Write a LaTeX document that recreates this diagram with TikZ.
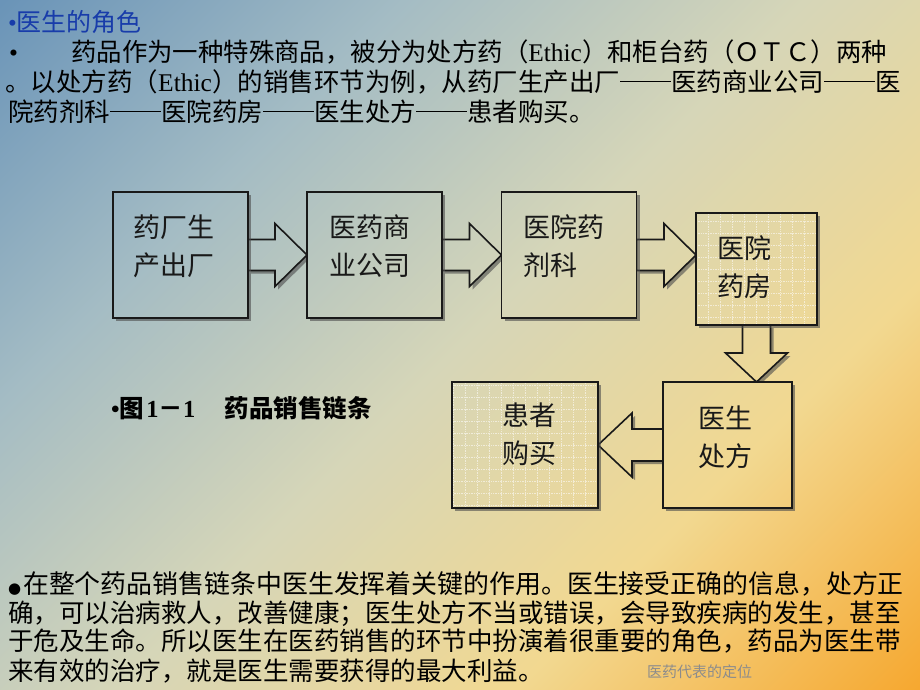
\documentclass[tikz,border=0pt]{standalone}
\usepackage{fontspec}
\setmainfont{Liberation Serif}
\newfontfamily\cjk{Noto Sans CJK SC}
\newfontfamily\lser{Liberation Serif}
\newfontfamily\dejavu{DejaVu Sans}
\usetikzlibrary{calc,shadows}
\definecolor{bgA}{RGB}{106,148,184}
\definecolor{bgB}{RGB}{164,188,196}
\definecolor{bgC}{RGB}{214,214,184}
\definecolor{bgD}{RGB}{242,216,144}
\definecolor{bgE}{RGB}{246,168,48}
\definecolor{titleblue}{RGB}{24,60,170}
\definecolor{inkc}{RGB}{25,25,25}
\pgfdeclarehorizontalshading{bgsh}{100bp}{color(0bp)=(bgA); color(14.6bp)=(bgA); color(32.3bp)=(bgB); color(50bp)=(bgC); color(67.7bp)=(bgD); color(85.4bp)=(bgE); color(100bp)=(bgE)}
\pgfdeclarelayer{back}
\pgfdeclarelayer{arr}
\pgfsetlayers{back,arr,main}
\newcommand\bgfill{\shade[shading=bgsh,shading angle=-45] (O) rectangle (P);}
\newcommand\ddash{\rule[0.36em]{1.98em}{0.06em}\hspace{0.02em}}
\begin{document}
\begin{tikzpicture}[x=1pt,y=-1pt,
  shad/.style={drop shadow={shadow xshift=3pt, shadow yshift=-3pt, opacity=0.6, fill=black!70}},
  box/.style={draw=inkc, line width=1.6pt, inner sep=0pt, outer sep=0pt, shad, path picture={\bgfill}},
  gridbox/.style={box, path picture={\bgfill
     \draw[white, opacity=0.55, densely dotted, line width=0.7pt, step=12pt]
       (path picture bounding box.south west) grid (path picture bounding box.north east);}},
  blockarr/.style={draw=inkc, line width=1.6pt, line join=miter, shad, path picture={\bgfill}},
  boxtxt/.style={font=\fontsize{27}{38}\selectfont\cjk, align=left, inner sep=0pt, text=inkc},
  para/.style={anchor=base west, inner sep=0pt, font=\fontsize{25.5}{30}\selectfont\cjk, text=black},
]
\coordinate (O) at (0,0);
\coordinate (P) at (920,690);
\useasboundingbox (O) rectangle (P);
\begin{pgfonlayer}{back}
\bgfill
\end{pgfonlayer}

% header text
\node[para, text=titleblue, font=\fontsize{25}{30}\selectfont\cjk] (title) at (8,31.5) {{\lser •}医生的角色};
\node[para] (l2) at (9,61.5) {\makebox[62pt][l]{\lser •}{\fontsize{25.4}{30}\selectfont 药品作为一种特殊商品，被分为处方药（{\lser Ethic}）和柜台药（ＯＴＣ）两种}};
\node[para] (l3) at (5,91.5) {。以处方药（{\lser Ethic}）的销售环节为例，从药厂生产出厂\ddash 医药商业公司\ddash 医};
\node[para] (l4) at (8,121.5) {院药剂科\ddash 医院药房\ddash 医生处方\ddash 患者购买。};

% boxes
\node[box, minimum width=135, minimum height=126] (b1) at (180.5,255) {};
\node[box, minimum width=135, minimum height=126] (b2) at (374.5,255) {};
\node[box, minimum width=135, minimum height=126] (b3) at (569,255) {};
\node[gridbox, minimum width=121, minimum height=112] (b4) at (756.5,269) {};
\node[box, minimum width=129, minimum height=126] (b5) at (727.5,445) {};
\node[gridbox, minimum width=146, minimum height=126] (b6) at (525,445) {};

\node[boxtxt] (t1) at (174,246) {药厂生\\产出厂};
\node[boxtxt] (t2) at (369.5,246) {医药商\\业公司};
\node[boxtxt] (t3) at (563.5,246) {医院药\\剂科};
\node[boxtxt] (t4) at (744,267.5) {医院\\药房};
\node[boxtxt] (t5) at (725,437.5) {医生\\处方};
\node[boxtxt] (t6) at (529.5,434) {患者\\购买};

% block arrows
\begin{pgfonlayer}{arr}
\draw[blockarr] let \p1=(b1.east), \p2=(b2.west) in
  (\x1,\y1+15.5pt) -- (\x2-32pt,\y1+15.5pt) -- (\x2-32pt,\y1+31.5pt) -- (\x2,\y1)
  -- (\x2-32pt,\y1-31.5pt) -- (\x2-32pt,\y1-15.5pt) -- (\x1,\y1-15.5pt) -- cycle;
\draw[blockarr] let \p1=(b2.east), \p2=(b3.west) in
  (\x1,\y1+15.5pt) -- (\x2-32pt,\y1+15.5pt) -- (\x2-32pt,\y1+31.5pt) -- (\x2,\y1)
  -- (\x2-32pt,\y1-31.5pt) -- (\x2-32pt,\y1-15.5pt) -- (\x1,\y1-15.5pt) -- cycle;
\draw[blockarr] let \p1=(b3.east), \p2=(b4.west) in
  (\x1,\y1+15.5pt) -- (\x2-32pt,\y1+15.5pt) -- (\x2-32pt,\y1+31.5pt) -- (\x2,\y1)
  -- (\x2-32pt,\y1-31.5pt) -- (\x2-32pt,\y1-15.5pt) -- (\x1,\y1-15.5pt) -- cycle;
\draw[blockarr] let \p1=(b4.south), \p2=(b5.north) in
  (\x1-14pt,\y1) -- (\x1-14pt,\y2+29pt) -- (\x1-31pt,\y2+29pt) -- (\x1,\y2)
  -- (\x1+31pt,\y2+29pt) -- (\x1+14pt,\y2+29pt) -- (\x1+14pt,\y1) -- cycle;
\draw[blockarr] let \p1=(b5.west), \p2=(b6.east) in
  (\x1,\y1+16pt) -- (\x2+34pt,\y1+16pt) -- (\x2+34pt,\y1+32pt) -- (\x2,\y1)
  -- (\x2+34pt,\y1-32pt) -- (\x2+34pt,\y1-16pt) -- (\x1,\y1-16pt) -- cycle;
\end{pgfonlayer}

% caption
\node[para, font=\fontsize{24.5}{30}\selectfont\bfseries\cjk] (cap) at (111,417) {{\lser\bfseries •}图{\lser\bfseries\hspace{2pt}1}－{\lser\bfseries 1}　\hspace{5pt}药品销售链条};

% bottom paragraph
\node[para] (p1) at (8,593) {\makebox[15pt][l]{\dejavu\fontsize{15}{18}\selectfont ●}{\fontsize{25.9}{30}\selectfont 在整个药品销售链条中医生发挥着关键的作用。医生接受正确的信息，处方正}};
\node[para] (p2) at (8,622) {确，可以治病救人，改善健康；医生处方不当或错误，会导致疾病的发生，甚至};
\node[para] (p3) at (8,650) {于危及生命。所以医生在医药销售的环节中扮演着很重要的角色，药品为医生带};
\node[para] (p4) at (8,680) {来有效的治疗，就是医生需要获得的最大利益。};

% footer
\node[inner sep=0pt, font=\fontsize{15}{18}\selectfont\cjk, text=black!45] (foot) at (699.5,672) {医药代表的定位};
\end{tikzpicture}
\end{document}
